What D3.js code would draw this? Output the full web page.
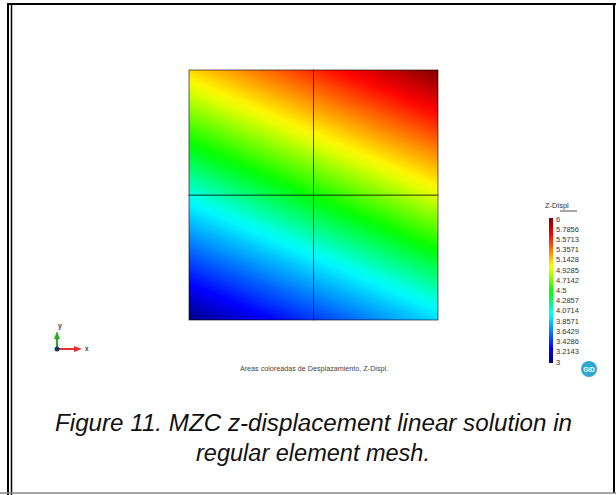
<!DOCTYPE html>
<html>
<head>
<meta charset="utf-8">
<style>
  body { margin: 0; background: #fff; }
  svg { display: block; }
</style>
</head>
<body>
<svg width="616" height="495"></svg>
<script src="https://d3js.org/d3.v7.min.js"></script>
<script>
    // mesh nodes (normalised) and nodal z-displacement, rows from bottom (y=0) to top (y=1)
    var nodeX = [0, 0.5, 1];
    var nodeY = [0, 0.5, 1];
    var zDispl = [
        [3.0, 3.45, 3.9],
        [4.05, 4.5, 4.95],
        [5.1, 5.55, 6.0]
    ];
    var legendTicks = ["6", "5.7856", "5.5713", "5.3571", "5.1428", "4.9285", "4.7142", "4.5",
        "4.2857", "4.0714", "3.8571", "3.6429", "3.4286", "3.2143", "3"];
    var colorDomain = [3, 3.3, 4.0, 4.48, 5.0, 5.65, 6];
    var colorRange = ["#000080", "#0000ff", "#00ffff", "#00ff00", "#ffff00", "#ff0000", "#800000"];

    var svg = d3.select("svg"),
        defs = svg.append("defs");

    var x = d3.scaleLinear().domain([0, 1]).range([189, 438]),
        y = d3.scaleLinear().domain([0, 1]).range([320, 70]),
        color = d3.scaleLinear().domain(colorDomain).range(colorRange),
        zMin = d3.min(zDispl, function (r) { return d3.min(r); }),
        zMax = d3.max(zDispl, function (r) { return d3.max(r); });

    // page frame
    svg.append("line").attr("x1", 7).attr("x2", 616).attr("y1", 4).attr("y2", 4)
        .attr("stroke", "#000").attr("stroke-width", 2);
    svg.append("line").attr("x1", 8).attr("x2", 8).attr("y1", 3).attr("y2", 495)
        .attr("stroke", "#000").attr("stroke-width", 2);
    svg.append("line").attr("x1", 11.5).attr("x2", 11.5).attr("y1", 5).attr("y2", 495)
        .attr("stroke", "#000").attr("stroke-width", 1.5);
    svg.append("line").attr("x1", 614).attr("x2", 614).attr("y1", 3).attr("y2", 493)
        .attr("stroke", "#000").attr("stroke-width", 2);
    svg.append("line").attr("x1", 0).attr("x2", 616).attr("y1", 493).attr("y2", 493)
        .attr("stroke", "#888").attr("stroke-width", 1.5);

    // one gradient per element, from its nodal values
    var elements = [];
    for (var j = 0; j < nodeY.length - 1; j++) {
        for (var i = 0; i < nodeX.length - 1; i++) {
            var x0 = x(nodeX[i]), x1 = x(nodeX[i + 1]), y0 = y(nodeY[j]), y1 = y(nodeY[j + 1]);
            var z00 = zDispl[j][i], z10 = zDispl[j][i + 1], z01 = zDispl[j + 1][i], z11 = zDispl[j + 1][i + 1];
            var gx = ((z10 - z00) + (z11 - z01)) / 2 / (x1 - x0),
                gy = ((z01 - z00) + (z11 - z10)) / 2 / (y1 - y0),
                g2 = gx * gx + gy * gy;
            elements.push({
                id: "el" + i + "_" + j,
                x: x0, y: y1, w: x1 - x0, h: y0 - y1,
                ax: x0 + (zMin - z00) * gx / g2, ay: y0 + (zMin - z00) * gy / g2,
                bx: x0 + (zMax - z00) * gx / g2, by: y0 + (zMax - z00) * gy / g2
            });
        }
    }

    var stops = d3.range(0, 1.0001, 0.025);

    defs.selectAll("linearGradient.el")
        .data(elements)
        .enter().append("linearGradient")
        .attr("class", "el")
        .attr("id", function (d) { return d.id; })
        .attr("gradientUnits", "userSpaceOnUse")
        .attr("x1", function (d) { return d.ax; }).attr("y1", function (d) { return d.ay; })
        .attr("x2", function (d) { return d.bx; }).attr("y2", function (d) { return d.by; })
        .selectAll("stop")
        .data(stops)
        .enter().append("stop")
        .attr("offset", function (t) { return t; })
        .attr("stop-color", function (t) { return color(zMin + t * (zMax - zMin)); });

    svg.append("g").selectAll("rect")
        .data(elements)
        .enter().append("rect")
        .attr("x", function (d) { return d.x; })
        .attr("y", function (d) { return d.y; })
        .attr("width", function (d) { return d.w; })
        .attr("height", function (d) { return d.h; })
        .attr("fill", function (d) { return "url(#" + d.id + ")"; })
        .attr("stroke", "#000")
        .attr("stroke-opacity", 0.6)
        .attr("stroke-width", 1);

    // axes glyph
    var ax = svg.append("g").attr("transform", "translate(57,349)");
    ax.append("line").attr("x1", 0).attr("y1", 0).attr("x2", 19).attr("y2", 0)
        .attr("stroke", "#e03030").attr("stroke-width", 2);
    ax.append("path").attr("d", "M17,-3L25,0L17,3Z").attr("fill", "#e03030");
    ax.append("line").attr("x1", 0).attr("y1", 0).attr("x2", 0).attr("y2", -12)
        .attr("stroke", "#20b020").attr("stroke-width", 2);
    ax.append("path").attr("d", "M-3,-10L0,-18L3,-10Z").attr("fill", "#20b020");
    ax.append("circle").attr("r", 2.5).attr("fill", "#123a5a");
    ax.append("text").attr("x", 28).attr("y", 2).text("x")
        .style("font", "bold 6.5px 'Liberation Sans'").attr("fill", "#444");
    ax.append("text").attr("x", 1).attr("y", -21).text("y")
        .style("font", "bold 7px 'Liberation Sans'").attr("fill", "#444");

    // legend
    var ly = d3.scaleLinear().domain([zMin, zMax]).range([362, 219]);
    var lg = defs.append("linearGradient").attr("id", "legendGrad")
        .attr("x1", 0).attr("y1", 1).attr("x2", 0).attr("y2", 0);
    lg.selectAll("stop").data(stops).enter().append("stop")
        .attr("offset", function (t) { return t; })
        .attr("stop-color", function (t) { return color(zMin + t * (zMax - zMin)); });

    svg.append("text").attr("x", 545).attr("y", 208).text("Z-Displ")
        .style("font", "7.5px 'Liberation Sans'").attr("fill", "#333");
    svg.append("line").attr("x1", 560).attr("x2", 577).attr("y1", 211).attr("y2", 211)
        .attr("stroke", "#222").attr("stroke-width", 0.8);
    svg.append("rect").attr("x", 549).attr("y", ly(zMax) - 1).attr("width", 4)
        .attr("height", ly(zMin) - ly(zMax) + 2).attr("fill", "url(#legendGrad)");

    svg.append("g").selectAll("text")
        .data(legendTicks)
        .enter().append("text")
        .attr("x", 556)
        .attr("y", function (d) { return ly(+d) + 2.5; })
        .text(function (d) { return d; })
        .style("font", "7.5px 'Liberation Sans'")
        .attr("fill", "#333");

    // GiD badge
    svg.append("circle").attr("cx", 589).attr("cy", 369).attr("r", 8).attr("fill", "#30a8d0");
    svg.append("text").attr("x", 589).attr("y", 371.5).text("GiD")
        .style("font", "bold 6.5px 'Liberation Sans'").style("text-anchor", "middle").attr("fill", "#fff");

    // plot subtitle
    svg.append("text").attr("x", 314).attr("y", 371).text("Areas coloreadas de Desplazamiento, Z-Displ.")
        .style("font", "7.2px 'Liberation Sans'").style("text-anchor", "middle").attr("fill", "#444");

    // figure caption
    svg.append("text").attr("x", 313.5).attr("y", 431)
        .attr("textLength", 517).attr("lengthAdjust", "spacingAndGlyphs")
        .text("Figure 11. MZC z-displacement linear solution in")
        .style("font", "italic 23px 'Liberation Sans'").style("text-anchor", "middle").attr("fill", "#111");
    svg.append("text").attr("x", 313).attr("y", 461)
        .attr("textLength", 234).attr("lengthAdjust", "spacingAndGlyphs")
        .text("regular element mesh.")
        .style("font", "italic 23px 'Liberation Sans'").style("text-anchor", "middle").attr("fill", "#111");
</script>
</body>
</html>
